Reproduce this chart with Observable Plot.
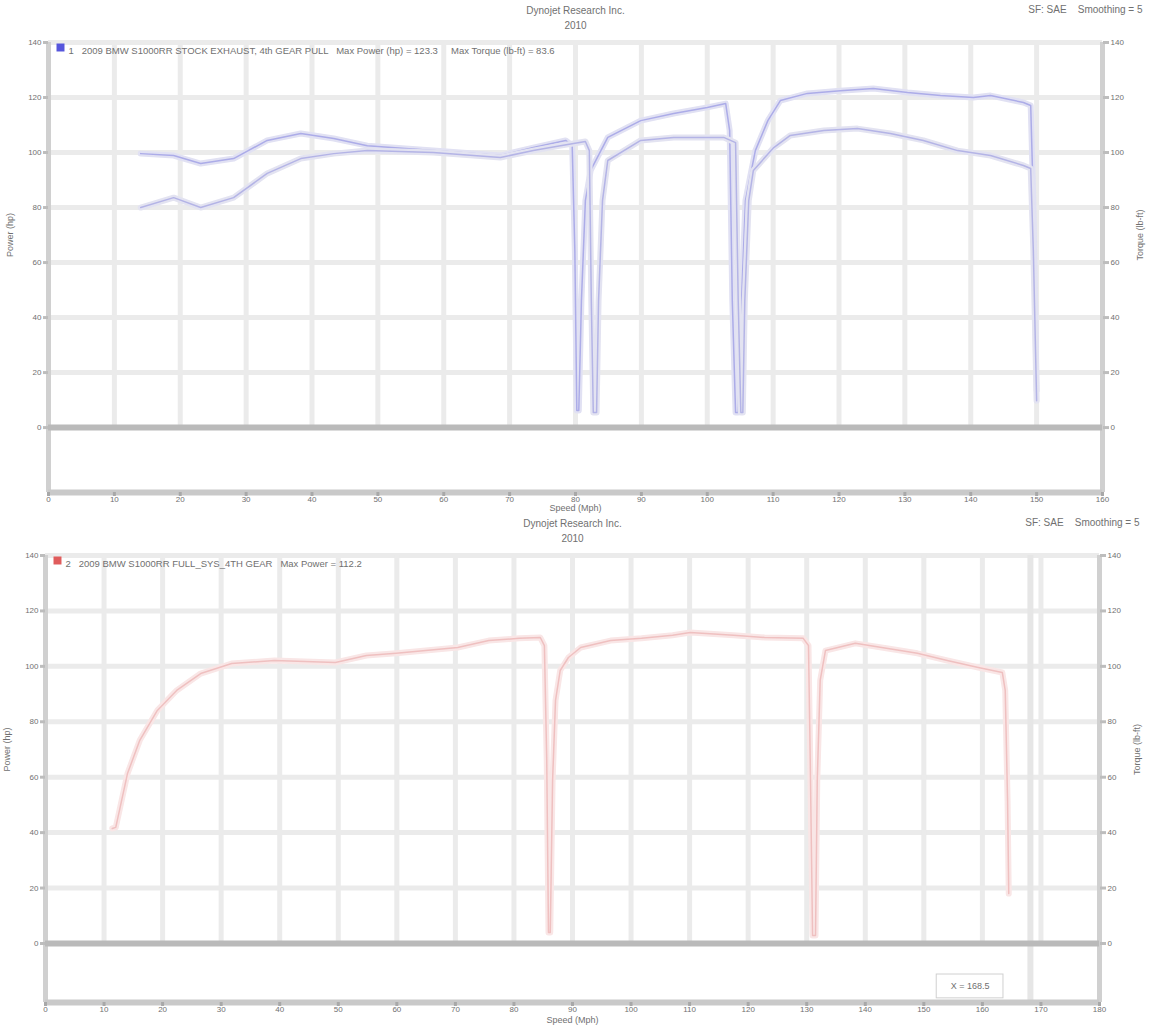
<!DOCTYPE html>
<html>
<head>
<meta charset="utf-8">
<script src="https://cdn.jsdelivr.net/npm/d3@7"></script>
<script src="https://cdn.jsdelivr.net/npm/@observablehq/plot@0.6"></script>
<style>
  html, body { margin: 0; padding: 0; background: #fff; }
  #charts svg { display: block; overflow: visible; }
</style>
</head>
<body>
<div id="charts"></div>
<script>
// ---------- data ----------
const topTitle = "Dynojet Research Inc.";
const topDate = "2010";
const botTitle = "Dynojet Research Inc.";
const botDate = "2010";
const corrText = "SF: SAE    Smoothing = 5";
const xLabel = "Speed (Mph)";
const yLabelLeft = "Power (hp)";
const yLabelRight = "Torque (lb-ft)";
const topLegend = "1   2009 BMW S1000RR STOCK EXHAUST, 4th GEAR PULL   Max Power (hp) = 123.3     Max Torque (lb-ft) = 83.6";
const botLegend = "2   2009 BMW S1000RR FULL_SYS_4TH GEAR   Max Power = 112.2";
const cursorText = "X = 168.5";

const topXTicks = [0,10,20,30,40,50,60,70,80,90,100,110,120,130,140,150,160];
const botXTicks = [0,10,20,30,40,50,60,70,80,90,100,110,120,130,140,150,160,170,180];
const yTicks = [0,20,40,60,80,100,120,140];

// top chart, run A
const runASpeed = [14.0,19.0,23.1,28.1,33.2,38.3,43.3,48.4,58.4,68.6,73.6,78.5,79.5,79.9,80.2,80.5,80.9,81.5,82.3,84.9,89.9,94.9,100.0,102.8,103.4,103.8,104.3,104.7,105.2,105.8,107.3,109.2,111.1,115.2,120.2,125.2,130.4,135.4,140.4,143.0,148.0,149.1,149.5,150.0];
const runAPower = [99.6,98.9,96.0,97.8,104.4,106.9,105.1,102.5,100.7,98.9,101.8,104.4,102.5,64.4,6.2,6.2,46.2,82.5,93.5,105.5,111.6,114.2,116.4,117.8,108.0,46.2,5.5,5.5,46.2,82.5,100.7,111.6,118.9,121.5,122.5,123.3,121.8,120.7,120.0,120.7,118.2,117.1,82.5,13.5];
// top chart, run B
const runBSpeed = [14.0,19.0,23.1,28.1,33.2,38.3,43.3,48.4,58.4,68.6,73.6,77.7,81.5,82.1,82.4,82.7,83.2,83.5,84.1,84.9,89.9,94.9,102.5,104.3,104.7,105.1,105.4,105.7,106.3,107.0,110.1,112.6,117.7,122.8,127.8,132.8,138.0,143.0,148.0,149.1,149.5,150.0];
const runBPower = [80.0,83.6,80.0,83.6,92.4,97.8,99.6,100.7,100.0,98.2,100.7,102.5,104.0,100.7,46.2,5.5,5.5,46.2,82.5,97.1,104.4,105.5,105.5,103.6,46.2,5.5,5.5,46.2,82.5,93.5,101.8,106.2,108.0,108.7,106.9,104.4,100.7,98.9,95.3,94.2,64.4,9.8];
// bottom chart, run C
const runCSpeed = [11.4,12.0,14.0,16.1,19.1,22.4,26.5,31.8,39.1,49.5,54.8,59.9,70.4,75.7,80.9,84.5,85.2,85.6,85.9,86.2,86.6,87.1,87.9,89.3,91.4,96.5,101.8,107.1,110.1,117.5,122.8,129.4,130.3,130.6,131.0,131.5,131.8,132.3,133.2,138.3,143.6,148.9,154.0,159.3,163.4,163.9,164.3,164.5];
const runCPower = [41.5,41.9,61.3,73.3,84.1,91.3,97.4,101.0,102.1,101.4,103.9,104.7,106.8,109.3,110.1,110.4,107.5,66.0,4.0,4.0,58.8,87.7,98.5,103.2,106.8,109.3,110.1,111.2,112.2,111.2,110.4,110.1,107.5,66.0,2.9,2.9,58.8,94.9,105.7,108.3,106.5,104.7,102.1,99.6,97.8,91.3,51.6,18.0];
const cursorSpeed = [168.2];

// ---------- helpers ----------
const FONT = "'Liberation Sans', Arial, sans-serif";
const textGray = "#707070";
const toRows = (xs, ys) => xs.map((x, i) => ({x, y: ys[i]}));

function chart(cfg) {
  const {height, marginLeft, marginRight, marginTop, marginBottom, xMax, xTicks, yMin,
         lines, legendText, legendColor, title, date, xLabelDy, extra = []} = cfg;
  return Plot.plot({
    width: 1150,
    height,
    marginLeft, marginRight, marginTop, marginBottom,
    style: {fontFamily: FONT, fontSize: "9px", color: textGray, background: "#fff", overflow: "visible"},
    x: {domain: [0, xMax], axis: null},
    y: {domain: [yMin, 140], axis: null},
    marks: [
      Plot.ruleY(yTicks.filter(d => d > 0), {x1: 0, x2: xMax, stroke: "#ebebeb", strokeWidth: 5}),
      Plot.ruleX(xTicks.filter(d => d > 0 && d < xMax), {y1: 0, y2: 140, stroke: "#ebebeb", strokeWidth: 5}),
      ...extra,
      Plot.ruleX([0, xMax], {y1: yMin, y2: 140, stroke: "#d0d0d0", strokeWidth: 5}),
      Plot.ruleY([0], {x1: 0, x2: xMax, stroke: "#bababa", strokeWidth: 6}),
      Plot.ruleY([yMin], {x1: 0, x2: xMax, stroke: "#c9c9c9", strokeWidth: 6}),
      ...lines.flatMap(l => [
        Plot.line(l.rows, {x: "x", y: "y", stroke: l.halo, strokeWidth: 6}),
        Plot.line(l.rows, {x: "x", y: "y", stroke: l.core, strokeWidth: 1.5})
      ]),
      Plot.axisX({ticks: xTicks, anchor: "bottom", tickSize: 4, tickPadding: 0, stroke: "#a8a8a8", strokeWidth: 3, fill: textGray, fontSize: 8, label: null}),
      Plot.axisY({ticks: yTicks, anchor: "left", tickSize: 5, tickPadding: 2, stroke: "#bdbdbd", strokeWidth: 3, fill: textGray, fontSize: 8, label: null}),
      Plot.axisY({ticks: yTicks, anchor: "right", tickSize: 6, tickPadding: 2, stroke: "#bdbdbd", strokeWidth: 3, fill: textGray, fontSize: 8, label: null}),
      Plot.text([yLabelLeft], {x: 0, y: 70, dx: -38, rotate: -90, fill: textGray, fontSize: 9}),
      Plot.text([yLabelRight], {x: xMax, y: 70, dx: 38, rotate: -90, fill: textGray, fontSize: 9}),
      Plot.text([xLabel], {frameAnchor: "bottom", dy: xLabelDy, fill: textGray, fontSize: 9}),
      Plot.text([title], {frameAnchor: "top", dy: -36, fill: textGray, fontSize: 10}),
      Plot.text([date], {frameAnchor: "top", dy: -21, fill: textGray, fontSize: 10}),
      Plot.text([corrText], {frameAnchor: "top-right", dx: 40, dy: -37, textAnchor: "end", fill: textGray, fontSize: 10}),
      Plot.dot([0], {frameAnchor: "top-left", dx: 12, dy: 5, symbol: "square", r: 4.5, fill: legendColor}),
      Plot.text([legendText], {frameAnchor: "top-left", dx: 20, dy: 5, textAnchor: "start", fill: textGray, fontSize: 9.5})
    ]
  });
}

const topChart = chart({
  height: 514, marginLeft: 48, marginRight: 48, marginTop: 42, marginBottom: 22,
  xMax: 160, xTicks: topXTicks, yMin: -23.6, xLabelDy: 18,
  lines: [
    {rows: toRows(runASpeed, runAPower), halo: "#e1e1f3", core: "#acace8"},
    {rows: toRows(runBSpeed, runBPower), halo: "#e3e3f1", core: "#b4b4e6"}
  ],
  legendText: topLegend, legendColor: "#5656dc", title: topTitle, date: topDate
});

const botChart = chart({
  height: 518, marginLeft: 45, marginRight: 51, marginTop: 41, marginBottom: 30,
  xMax: 180, xTicks: botXTicks, yMin: -21.3, xLabelDy: 20,
  lines: [
    {rows: toRows(runCSpeed, runCPower), halo: "#f9e6e6", core: "#efc0c0"}
  ],
  legendText: botLegend, legendColor: "#e05c5c", title: botTitle, date: botDate,
  extra: [
    Plot.ruleX(cursorSpeed, {y1: -21.3, y2: 140, stroke: "#e6e6e6", strokeWidth: 6}),
    Plot.rect([0], {x1: 152.2, x2: 163.6, y1: -19.8, y2: -11.2, stroke: "#d0d0d0", fill: "#fff"}),
    Plot.text([cursorText], {x: 157.9, y: -15.5, textAnchor: "middle", fill: textGray, fontSize: 9})
  ]
});

const host = document.getElementById("charts");
host.appendChild(topChart);
host.appendChild(botChart);
</script>
</body>
</html>
